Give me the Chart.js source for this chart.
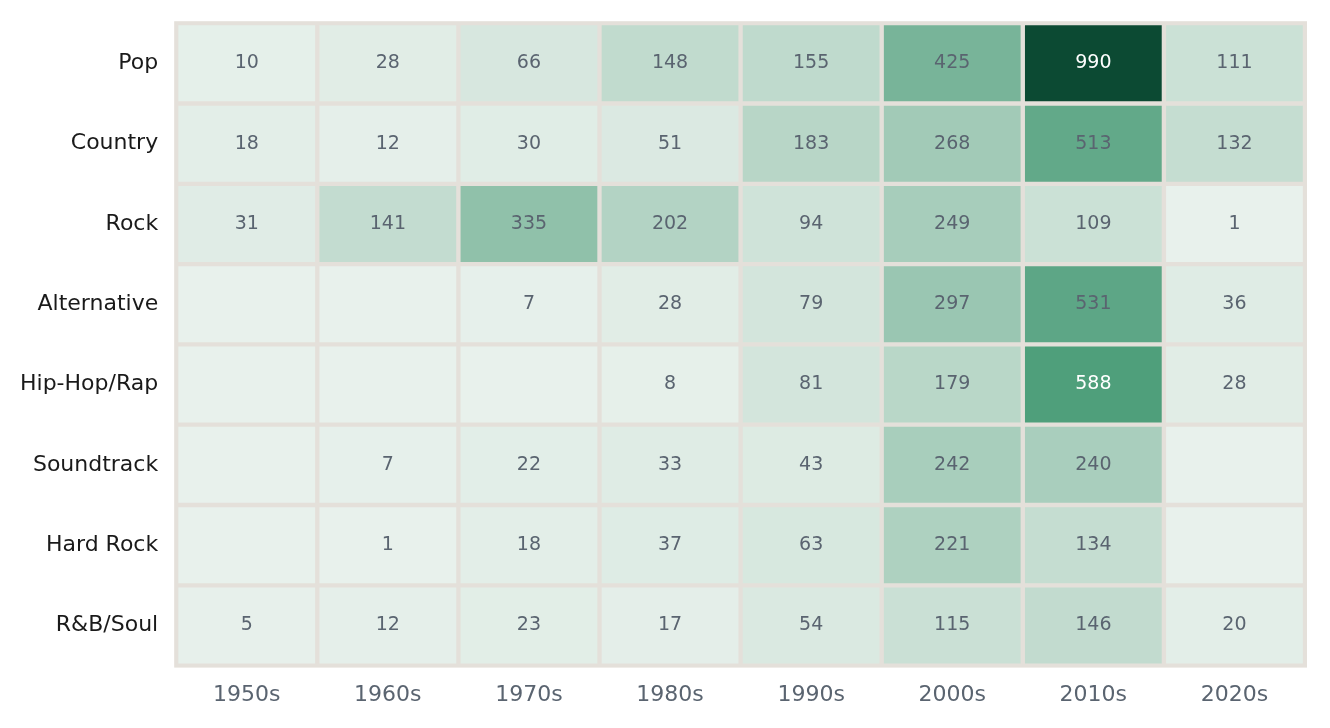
<!DOCTYPE html>
<html>
<head>
<meta charset="utf-8">
<script src="https://cdn.jsdelivr.net/npm/chart.js@4"></script>
<style>
  body { margin: 0; background: #fff; }
  #wrap { width: 1330px; height: 728px; }
</style>
</head>
<body>
<div id="wrap"><canvas id="myChart"></canvas></div>
<script>
var decades = ['1950s', '1960s', '1970s', '1980s', '1990s', '2000s', '2010s', '2020s'];
var genres = ['Pop', 'Country', 'Rock', 'Alternative', 'Hip-Hop/Rap', 'Soundtrack', 'Hard Rock', 'R&B/Soul'];
// 0 = no songs (blank cell)
var pop = [10, 28, 66, 148, 155, 425, 990, 111];
var country = [18, 12, 30, 51, 183, 268, 513, 132];
var rock = [31, 141, 335, 202, 94, 249, 109, 1];
var alternative = [0, 0, 7, 28, 79, 297, 531, 36];
var hiphop = [0, 0, 0, 8, 81, 179, 588, 28];
var soundtrack = [0, 7, 22, 33, 43, 242, 240, 0];
var hardrock = [0, 1, 18, 37, 63, 221, 134, 0];
var rnb = [5, 12, 23, 17, 54, 115, 146, 20];
var values = [pop, country, rock, alternative, hiphop, soundtrack, hardrock, rnb];

var gapColor = '#e4e0da';

// colour scale stops (value fraction of max -> colour)
var stops = [[0, [232, 241, 236]], [0.15, [193, 219, 206]], [0.43, [120, 180, 153]], [0.6, [77, 158, 122]], [1, [12, 74, 51]]];
function cellColor(v) {
    var t = v / 990;
    for (var i = 1; i < stops.length; i++) {
        if (t <= stops[i][0]) {
            var a = stops[i - 1], b = stops[i];
            var f = (t - a[0]) / (b[0] - a[0]);
            var c = a[1].map(function (x, k) { return Math.round(x + (b[1][k] - x) * f); });
            return 'rgb(' + c.join(',') + ')';
        }
    }
    return 'rgb(12,74,51)';
}

var datasets = genres.map(function (g, i) {
    return {
        label: g,
        data: decades.map(function () { return [i, i + 1]; }),
        backgroundColor: values[i].map(cellColor),
        borderColor: gapColor,
        borderWidth: 2.5,
        borderSkipped: false,
        grouped: false,
        barPercentage: 1,
        categoryPercentage: 1
    };
});

const areaBg = {
    id: 'areaBg',
    beforeDatasetsDraw(chart) {
        var a = chart.chartArea, ctx = chart.ctx;
        ctx.save();
        ctx.fillStyle = gapColor;
        ctx.fillRect(a.left - 2, a.top - 2, a.right - a.left + 4, a.bottom - a.top + 4);
        ctx.restore();
    }
};

const cellText = {
    id: 'cellText',
    afterDatasetsDraw(chart) {
        var ctx = chart.ctx;
        ctx.save();
        ctx.font = '19px "DejaVu Sans"';
        ctx.textAlign = 'center';
        ctx.textBaseline = 'middle';
        chart.data.datasets.forEach(function (ds, i) {
            chart.getDatasetMeta(i).data.forEach(function (bar, j) {
                var v = values[i][j];
                if (!v) return;
                ctx.fillStyle = v > 550 ? '#ffffff' : '#5a6470';
                ctx.fillText(String(v), bar.x, (bar.y + bar.base) / 2);
            });
        });
        ctx.restore();
    }
};

new Chart(document.getElementById('myChart'), {
    type: 'bar',
    data: { labels: decades, datasets: datasets },
    options: {
        responsive: true,
        maintainAspectRatio: false,
        animation: false,
        layout: { padding: { top: 23, right: 25, left: 10, bottom: 12 } },
        plugins: { legend: { display: false }, tooltip: { enabled: false } },
        scales: {
            x: {
                grid: { display: false },
                border: { display: false },
                ticks: { color: '#5a6470', font: { size: 22, family: 'DejaVu Sans' }, padding: 8 }
            },
            y: {
                min: 0, max: 8, reverse: true,
                grid: { display: false },
                border: { display: false },
                afterBuildTicks: function (axis) {
                    axis.ticks = genres.map(function (g, i) { return { value: i + 0.5 }; });
                },
                ticks: {
                    color: '#1a1a1a',
                    font: { size: 22, family: 'DejaVu Sans' },
                    padding: 10,
                    autoSkip: false,
                    callback: function (v) { return genres[Math.floor(v)]; }
                }
            }
        }
    },
    plugins: [areaBg, cellText]
});
</script>
</body>
</html>
